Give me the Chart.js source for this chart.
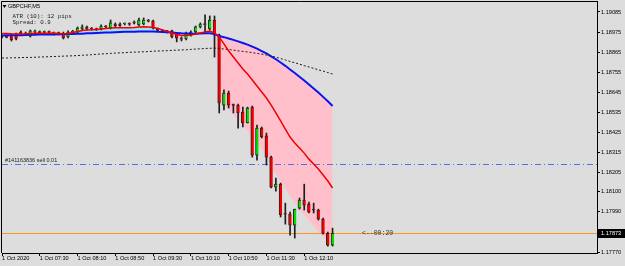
<!DOCTYPE html>
<html><head><meta charset="utf-8">
<script src="https://cdn.jsdelivr.net/npm/chart.js@4.4.0/dist/chart.umd.min.js"></script>
<style>html,body{margin:0;padding:0;background:#DDDDDD;}canvas{display:block;}</style>
</head><body>
<canvas id="c" width="625" height="266"></canvas>
<script>
const times = ["06:50","06:55","07:00","07:05","07:10","07:15","07:20","07:25","07:30","07:35",
"07:40","07:45","07:50","07:55","08:00","08:05","08:10","08:15","08:20","08:25",
"08:30","08:35","08:40","08:45","08:50","08:55","09:00","09:05","09:10","09:15",
"09:20","09:25","09:30","09:35","09:40","09:45","09:50","09:55","10:00","10:05",
"10:10","10:15","10:20","10:25","10:30","10:35","10:40","10:45","10:50","10:55",
"11:00","11:05","11:10","11:15","11:20","11:25","11:30","11:35","11:40","11:45",
"11:50","11:55","12:00","12:05","12:10","12:15","12:20","12:25","12:30","12:35","12:40"];

const openP = [1.18948,1.18948,1.18959,1.18967,1.18970,1.18964,1.18953,1.18975,1.18973,1.18973,
1.18975,1.18970,1.18970,1.18964,1.18948,1.18975,1.18975,1.18992,1.19003,1.18992,
1.18992,1.18992,1.19006,1.18997,1.19019,1.19019,1.19019,1.19019,1.19025,1.19014,
1.19019,1.19036,1.19036,1.18992,1.18981,1.18978,1.18981,1.18964,1.18937,1.18937,
1.18959,1.18975,1.19003,1.19017,1.18992,1.19041,1.18959,1.18575,1.18641,1.18575,
1.18575,1.18537,1.18477,1.18564,1.18301,1.18449,1.18406,1.18290,1.18126,1.18142,
1.17978,1.17978,1.17918,1.18011,1.18055,1.18033,1.18000,1.18000,1.17951,1.17873,
1.17808];
const highP = [1.18953,1.18953,1.18964,1.18970,1.18981,1.18975,1.18986,1.18986,1.18981,1.18981,
1.18981,1.18975,1.18975,1.18975,1.18981,1.18984,1.19003,1.19014,1.19008,1.19000,
1.18997,1.19014,1.19011,1.19041,1.19025,1.19025,1.19025,1.19025,1.19036,1.19052,
1.19052,1.19044,1.19041,1.18997,1.18986,1.18984,1.18986,1.18970,1.18948,1.18975,
1.18981,1.19008,1.19025,1.19069,1.19063,1.19063,1.18964,1.18658,1.18652,1.18581,
1.18581,1.18564,1.18564,1.18570,1.18466,1.18455,1.18422,1.18296,1.18175,1.18148,
1.18038,1.17989,1.18005,1.18066,1.18142,1.18044,1.18038,1.18005,1.17956,1.17879,
1.17901];
const lowP = [1.18943,1.18943,1.18926,1.18932,1.18959,1.18959,1.18948,1.18964,1.18964,1.18967,
1.18964,1.18959,1.18959,1.18937,1.18943,1.18970,1.18970,1.18986,1.18986,1.18986,
1.18984,1.18986,1.18997,1.18992,1.19003,1.19006,1.19014,1.19011,1.19019,1.19008,
1.19014,1.19030,1.18992,1.18978,1.18973,1.18970,1.18943,1.18921,1.18926,1.18932,
1.18953,1.18970,1.18997,1.18970,1.18986,1.18838,1.18532,1.18548,1.18559,1.18532,
1.18449,1.18455,1.18477,1.18290,1.18274,1.18395,1.18247,1.18121,1.18104,1.17962,
1.17923,1.17863,1.17847,1.18005,1.18000,1.17984,1.17984,1.17945,1.17868,1.17803,
1.17803];
const closeP = [1.18947,1.18946,1.18932,1.18937,1.18969,1.18967,1.18981,1.18976,1.18972,1.18975,
1.18973,1.18971,1.18967,1.18943,1.18975,1.18978,1.18997,1.19003,1.18992,1.18991,
1.18989,1.19008,1.19003,1.19025,1.19008,1.19008,1.19020,1.19018,1.19024,1.19041,
1.19041,1.19035,1.18997,1.18984,1.18980,1.18977,1.18948,1.18941,1.18936,1.18970,
1.18975,1.19003,1.19019,1.19016,1.19041,1.18959,1.18586,1.18641,1.18575,1.18573,
1.18533,1.18477,1.18559,1.18301,1.18449,1.18400,1.18290,1.18126,1.18142,1.17973,
1.17977,1.17918,1.18005,1.18055,1.18027,1.17989,1.17999,1.17951,1.17873,1.17808,
1.17873];

const maRed = [1.18967,1.18967,1.18965,1.18964,1.18964,1.18965,1.18967,1.18968,1.18969,1.18969,
1.18969,1.18968,1.18967,1.18965,1.18967,1.18973,1.18978,1.18984,1.18986,1.18987,
1.18989,1.18992,1.18995,1.18997,1.18998,1.18998,1.18998,1.18998,1.19000,1.19003,
1.19004,1.19003,1.19000,1.18995,1.18986,1.18978,1.18970,1.18962,1.18956,1.18956,
1.18959,1.18964,1.18970,1.18975,1.18981,1.18970,1.18948,1.18910,1.18871,1.18838,
1.18806,1.18773,1.18745,1.18712,1.18680,1.18647,1.18614,1.18575,1.18532,1.18488,
1.18444,1.18400,1.18367,1.18340,1.18312,1.18279,1.18252,1.18225,1.18192,1.18159,
1.18121];
const maBlue = [1.18956,1.18957,1.18957,1.18958,1.18958,1.18959,1.18960,1.18960,1.18961,1.18961,
1.18962,1.18962,1.18963,1.18963,1.18964,1.18964,1.18965,1.18966,1.18968,1.18969,
1.18970,1.18971,1.18972,1.18973,1.18974,1.18975,1.18976,1.18976,1.18977,1.18978,
1.18978,1.18978,1.18978,1.18976,1.18975,1.18974,1.18972,1.18970,1.18968,1.18967,
1.18966,1.18966,1.18967,1.18968,1.18968,1.18964,1.18953,1.18947,1.18940,1.18932,
1.18924,1.18915,1.18906,1.18895,1.18884,1.18871,1.18858,1.18842,1.18826,1.18808,
1.18790,1.18770,1.18751,1.18730,1.18710,1.18688,1.18666,1.18644,1.18620,1.18596,
1.18570];
const maDotted = [1.18833,1.18833,1.18834,1.18834,1.18835,1.18836,1.18836,1.18837,1.18838,1.18839,
1.18840,1.18841,1.18842,1.18843,1.18844,1.18845,1.18846,1.18848,1.18849,1.18851,
1.18853,1.18855,1.18856,1.18858,1.18860,1.18861,1.18862,1.18864,1.18865,1.18866,
1.18867,1.18868,1.18870,1.18871,1.18872,1.18873,1.18875,1.18876,1.18877,1.18878,
1.18880,1.18882,1.18883,1.18885,1.18886,1.18887,1.18885,1.18882,1.18879,1.18876,
1.18872,1.18869,1.18866,1.18862,1.18858,1.18854,1.18849,1.18844,1.18837,1.18830,
1.18822,1.18814,1.18807,1.18799,1.18791,1.18784,1.18776,1.18768,1.18761,1.18753,
1.18745];
// lower edge of the pink zone after the drop (bars 46..70)
const pinkEdge = [1.18603,1.18581,1.18548,1.18521,1.18493,1.18460,1.18433,1.18400,1.18367,1.18334,
1.18285,1.18241,1.18197,1.18159,1.18115,1.18077,1.18038,1.18005,1.17973,1.17945,
1.17912,1.17879,1.17852,1.17830,1.17808];

const yTicks = [1.19085,1.18975,1.18865,1.18755,1.18645,1.18535,1.18425,1.18315,1.18205,1.18100,1.17990,1.17770];
const xTickBars = [0,8,16,24,32,40,48,56,64];
const xTickLabels = ["1 Oct 2020","1 Oct 07:30","1 Oct 08:10","1 Oct 08:50","1 Oct 09:30","1 Oct 10:10","1 Oct 10:50","1 Oct 11:30","1 Oct 12:10"];
const futureSlots = 56;
const bidPrice = 1.17873;
const orderPrice = 1.18252;
const symbolText = "GBPCHF,M5";
const infoLines = ["ATR (10): 12 pips", "Spread: 0.9"];
const orderText = "#141163836 sell 0.01";
const timerText = "<--00:20";

const labels = times.concat(new Array(futureSlots).fill(''));
const fillEdge = maRed.slice(0, times.length - pinkEdge.length).concat(pinkEdge);
const wickData = lowP.map((l, i) => [l, highP[i]]);
const bodyData = openP.map((o, i) => [o, closeP[i]]);
const bull = '#00E000', bear = '#F00000', doji = '#202020';
const bodyColors = openP.map((o, i) => closeP[i] > o ? bull : (closeP[i] < o ? bear : doji));

const deco = {
  id: 'deco',
  afterDatasetDraw(chart, args) {
    if (args.index !== 0) return;
    const {ctx, chartArea: a, scales: {y}} = chart;
    ctx.save();
    ctx.beginPath(); ctx.rect(a.left, a.top, a.right - a.left, a.bottom - a.top); ctx.clip();
    ctx.lineWidth = 1;
    const yo = Math.round(y.getPixelForValue(orderPrice)) + 0.5;
    ctx.strokeStyle = '#4F73E6'; ctx.setLineDash([6, 3, 1, 3]);
    ctx.beginPath(); ctx.moveTo(a.left, yo); ctx.lineTo(a.right, yo); ctx.stroke();
    const yb = Math.round(y.getPixelForValue(bidPrice)) + 0.5;
    ctx.strokeStyle = '#F59A1E'; ctx.setLineDash([]);
    ctx.beginPath(); ctx.moveTo(a.left, yb); ctx.lineTo(a.right, yb); ctx.stroke();
    ctx.restore();
  },
  afterDraw(chart) {
    const {ctx, chartArea: a, scales: {y}} = chart;
    ctx.save();
    ctx.strokeStyle = '#000'; ctx.lineWidth = 1;
    ctx.beginPath();
    ctx.moveTo(a.left - 0.5, a.bottom);
    ctx.lineTo(a.left - 0.5, a.top + 0.5);
    ctx.lineTo(a.right, a.top + 0.5);
    ctx.stroke();
    ctx.fillStyle = '#000';
    ctx.beginPath(); ctx.moveTo(2.5, 5); ctx.lineTo(6.5, 5); ctx.lineTo(4.5, 8); ctx.closePath(); ctx.fill();
    ctx.textBaseline = 'middle';
    ctx.font = '5.6px "Liberation Sans"';
    ctx.fillText(symbolText, 8, 6.5);
    ctx.fillStyle = '#222';
    ctx.font = '5.8px "Liberation Mono"';
    ctx.fillText(infoLines[0], 12.5, 16.5);
    ctx.fillText(infoLines[1], 12.5, 22.5);
    const yo = y.getPixelForValue(orderPrice);
    ctx.font = '5.5px "Liberation Sans"';
    ctx.textBaseline = 'alphabetic';
    ctx.fillText(orderText, 5, yo - 2);
    const yb = Math.round(y.getPixelForValue(bidPrice));
    ctx.textBaseline = 'middle';
    ctx.font = '6.5px "Liberation Mono"';
    ctx.fillStyle = '#333';
    ctx.fillText(timerText, 362, yb + 0.5);
    ctx.fillStyle = '#000';
    ctx.fillRect(a.right + 1, yb - 4, 28, 9);
    ctx.fillStyle = '#fff';
    ctx.font = '5.6px "Liberation Sans"';
    ctx.fillText(bidPrice.toFixed(5), a.right + 4, yb + 0.5);
    ctx.restore();
  }
};

new Chart(document.getElementById('c'), {
  type: 'bar',
  data: {
    labels: labels,
    datasets: [
      {type: 'line', data: fillEdge, borderColor: 'rgba(0,0,0,0)', borderWidth: 0, pointRadius: 0,
       fill: {target: 4, above: 'rgb(168,224,240)', below: '#FFC0CB'}, order: 10},
      {type: 'bar', data: wickData, backgroundColor: '#1e1e1e', barThickness: 1, grouped: false, order: 3},
      {type: 'bar', data: bodyData, backgroundColor: bodyColors, borderColor: '#262626',
       borderWidth: {left: 1, right: 0, top: 1, bottom: 1}, borderSkipped: false,
       barThickness: 3, minBarLength: 1, grouped: false, order: 2},
      {type: 'line', data: maDotted, borderColor: '#1a1a1a', borderWidth: 1, borderDash: [2, 2], pointRadius: 0, fill: false, order: 1},
      {type: 'line', data: maBlue, borderColor: '#0A14F0', borderWidth: 2, pointRadius: 0, fill: false, order: 1},
      {type: 'line', data: maRed, borderColor: '#F00000', borderWidth: 1.5, pointRadius: 0, fill: false, order: 0}
    ]
  },
  options: {
    responsive: false, animation: false, devicePixelRatio: 1,
    layout: {padding: {left: 2, top: 1, right: 0, bottom: 0}},
    plugins: {legend: {display: false}, tooltip: {enabled: false}},
    scales: {
      x: {
        type: 'category', offset: false,
        grid: {offset: false, drawOnChartArea: false, drawTicks: true, tickLength: 3,
               color: c => xTickBars.includes(c.index) ? '#000' : 'rgba(0,0,0,0)'},
        border: {display: true, color: '#000', width: 1},
        ticks: {autoSkip: false, maxRotation: 0, minRotation: 0, align: 'start', padding: -1,
                color: '#000', font: {family: 'Liberation Sans', size: 5.6},
                callback: (v, i) => { const k = xTickBars.indexOf(i); return k >= 0 ? xTickLabels[k] : ''; }},
        afterFit: s => { s.height = 13; s.paddingLeft = 0; s.paddingRight = 0; }
      },
      y: {
        position: 'right', min: 1.17765, max: 1.19145,
        afterBuildTicks: s => { s.ticks = yTicks.map(v => ({value: v})); },
        grid: {drawOnChartArea: false, drawTicks: true, tickLength: 3, color: '#000'},
        border: {display: true, color: '#000', width: 1},
        ticks: {padding: 1, color: '#000', font: {family: 'Liberation Sans', size: 5.6},
                callback: v => Number(v).toFixed(5)},
        afterFit: s => { s.width = 28; s.paddingTop = 0; s.paddingBottom = 0; }
      }
    }
  },
  plugins: [deco]
});
</script>
</body></html>
